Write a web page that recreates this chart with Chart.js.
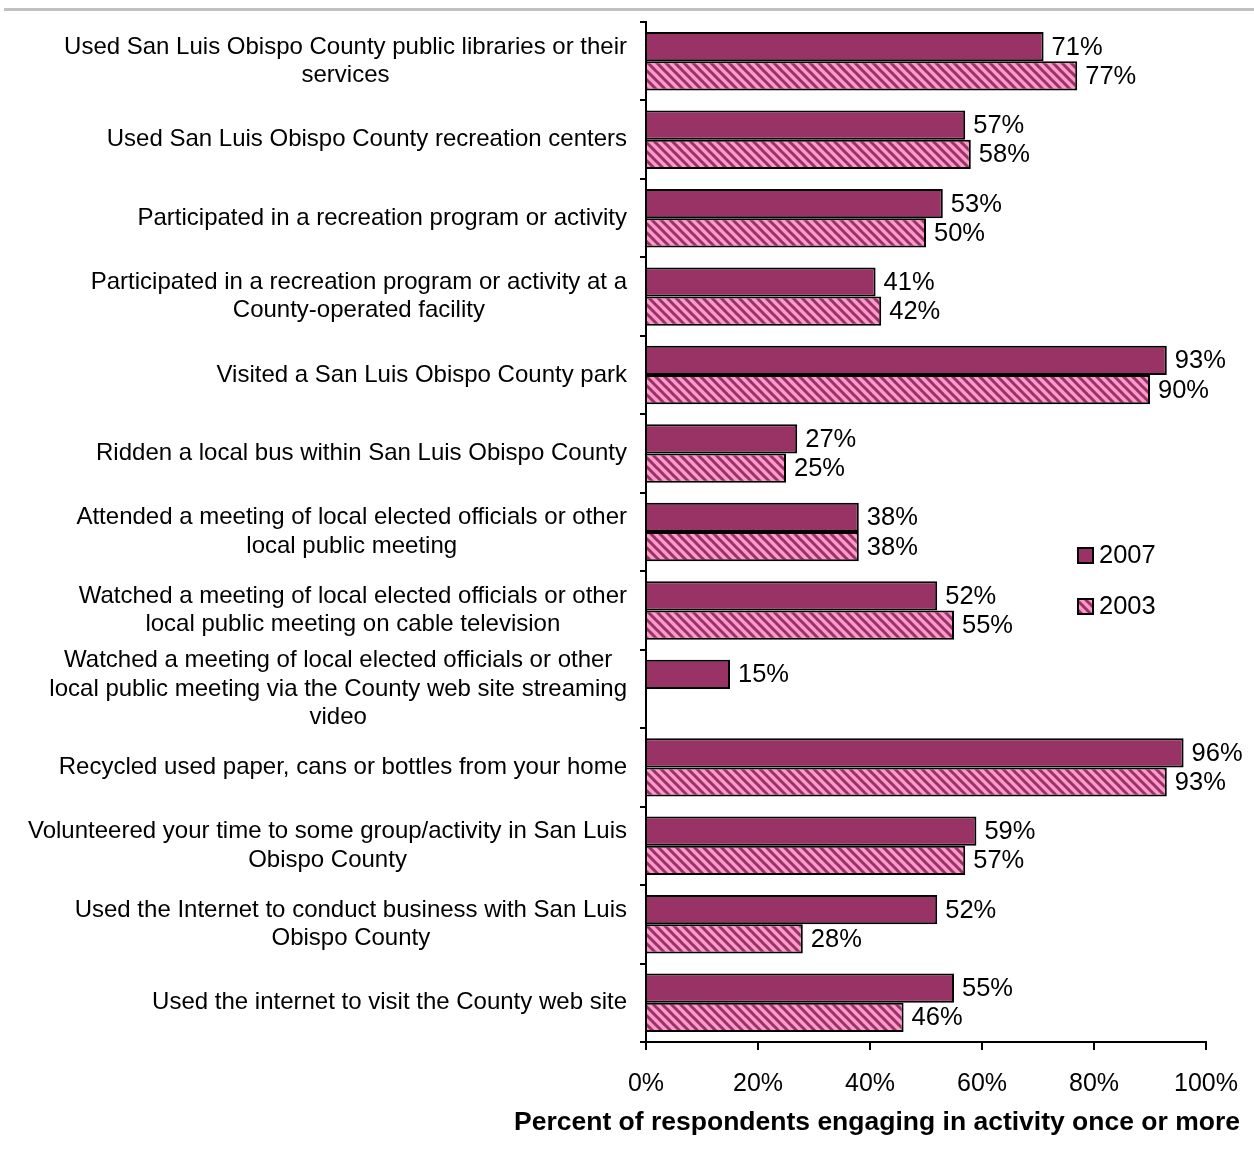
<!DOCTYPE html>
<html>
<head>
<meta charset="utf-8">
<script src="https://cdn.jsdelivr.net/npm/chart.js@4/dist/chart.umd.min.js"></script>
<style>
	body { margin: 0; background: #ffffff; }
</style>
</head>
<body>
<canvas id="myChart" width="1254" height="1152"></canvas>
<script>

const categories = [
	['Used San Luis Obispo County public libraries or their', 'services'],
	['Used San Luis Obispo County recreation centers'],
	['Participated in a recreation program or activity'],
	['Participated in a recreation program or activity at a', 'County-operated facility'],
	['Visited a San Luis Obispo County park'],
	['Ridden a local bus within San Luis Obispo County'],
	['Attended a meeting of local elected officials or other', 'local public meeting'],
	['Watched a meeting of local elected officials or other', 'local public meeting on cable television'],
	['Watched a meeting of local elected officials or other', 'local public meeting via the County web site streaming', 'video'],
	['Recycled used paper, cans or bottles from your home'],
	['Volunteered your time to some group/activity in San Luis', 'Obispo County'],
	['Used the Internet to conduct business with San Luis', 'Obispo County'],
	['Used the internet to visit the County web site'],
];

const values_2007 = [71, 57, 53, 41, 93, 27, 38, 52, 15, 96, 59, 52, 55];
const values_2003 = [77, 58, 50, 42, 90, 25, 38, 55, null, 93, 57, 28, 46];

const series_names = ['2007', '2003'];
const x_tick_step = 20;
const axis_title = 'Percent of respondents engaging in activity once or more';

const font_family = "'Liberation Sans', Arial, sans-serif";


function getHatch()
{
	const size = 9;
	const tile = document.createElement('canvas');
	tile.width = size;
	tile.height = size;

	const ctx = tile.getContext('2d');
	ctx.fillStyle = '#FF99CC';
	ctx.fillRect(0, 0, size, size);

	ctx.strokeStyle = '#993366';
	ctx.lineWidth = 3;
	ctx.beginPath();
	ctx.moveTo(-1, -1);
	ctx.lineTo(size + 1, size + 1);
	ctx.moveTo(size - 2, -2);
	ctx.lineTo(size + 2, 2);
	ctx.moveTo(-2, size - 2);
	ctx.lineTo(2, size + 2);
	ctx.stroke();

	return document.createElement('canvas').getContext('2d').createPattern(tile, 'repeat');
}


const draw_plugin = {
	id: 'draw_plugin',

	beforeDraw(chart)
	{
		const ctx = chart.ctx;
		ctx.save();
		ctx.fillStyle = '#ffffff';
		ctx.fillRect(0, 0, chart.width, chart.height);
		ctx.fillStyle = '#c0c0c0';
		ctx.fillRect(4, 8, chart.width - 4, 3);
		ctx.restore();
	},

	afterDraw(chart)
	{
		const ctx = chart.ctx;
		const y_scale = chart.scales.y;
		const line_height = 28.5;

		ctx.save();
		ctx.fillStyle = '#000000';

		// category labels: block right aligned, lines centred inside the block
		ctx.font = '24px ' + font_family;
		ctx.textAlign = 'center';
		ctx.textBaseline = 'middle';
		categories.forEach((lines, i) =>
		{
			const widest = Math.max(...lines.map((line) => ctx.measureText(line).width));
			const cx = 627 - widest / 2;
			const cy = y_scale.getPixelForValue(i);
			lines.forEach((line, k) =>
			{
				ctx.fillText(line, cx, cy + (k - (lines.length - 1) / 2) * line_height);
			});
		});

		// value labels
		ctx.font = '25.5px ' + font_family;
		ctx.textAlign = 'left';
		chart.data.datasets.forEach((dataset, d) =>
		{
			const meta = chart.getDatasetMeta(d);
			meta.data.forEach((bar, i) =>
			{
				if (dataset.data[i] === null)
				{
					return;
				}
				ctx.fillText(dataset.data[i] + '%', bar.x + 8, bar.y + 1);
			});
		});

		// legend
		const legend_y = [555, 606];
		chart.data.datasets.forEach((dataset, d) =>
		{
			ctx.fillStyle = dataset.backgroundColor;
			ctx.fillRect(1078, legend_y[d] - 7, 15, 15);
			ctx.strokeStyle = '#000000';
			ctx.lineWidth = 2;
			ctx.strokeRect(1078, legend_y[d] - 7, 15, 15);
			ctx.fillStyle = '#000000';
			ctx.fillText(dataset.label, 1099, legend_y[d] + 1);
		});

		// axis title
		ctx.font = 'bold 26.5px ' + font_family;
		ctx.textAlign = 'right';
		ctx.fillText(axis_title, 1240, 1123);

		ctx.restore();
	}
};


window.onload = function()
{
	const canvas = document.getElementById('myChart').getContext('2d');

	new Chart(canvas, {
		type: 'bar',
		data: {
			labels: categories,
			datasets: [
				{
					label: series_names[0],
					data: values_2007,
					backgroundColor: '#993366',
					borderColor: '#000000',
					borderWidth: 2,
				},
				{
					label: series_names[1],
					data: values_2003,
					backgroundColor: getHatch(),
					borderColor: '#000000',
					borderWidth: 2,
				},
			],
		},
		options: {
			indexAxis: 'y',
			responsive: false,
			animation: false,
			categoryPercentage: 0.745,
			barPercentage: 1.0,
			layout: {
				padding: { top: 22, right: 48, left: 0, bottom: 0 },
			},
			plugins: {
				legend: { display: false },
				tooltip: { enabled: false },
			},
			scales: {
				x: {
					min: 0,
					max: 100,
					afterFit: (scale) =>
					{
						scale.height = 110;
						scale.paddingLeft = 0;
						scale.paddingRight = 48;
					},
					border: { color: '#000000', width: 2 },
					grid: {
						drawOnChartArea: false,
						color: '#000000',
						lineWidth: 2,
						tickLength: 8,
					},
					ticks: {
						stepSize: x_tick_step,
						color: '#000000',
						padding: 19,
						maxRotation: 0,
						font: { family: font_family, size: 25 },
						callback: (value) => value + '%',
					},
				},
				y: {
					afterFit: (scale) => { scale.width = 646; },
					border: { color: '#000000', width: 2 },
					grid: {
						drawOnChartArea: false,
						color: '#000000',
						lineWidth: 2,
						tickLength: 6,
					},
					ticks: { display: false },
				},
			},
		},
		plugins: [draw_plugin],
	});
};

</script>
</body>
</html>
